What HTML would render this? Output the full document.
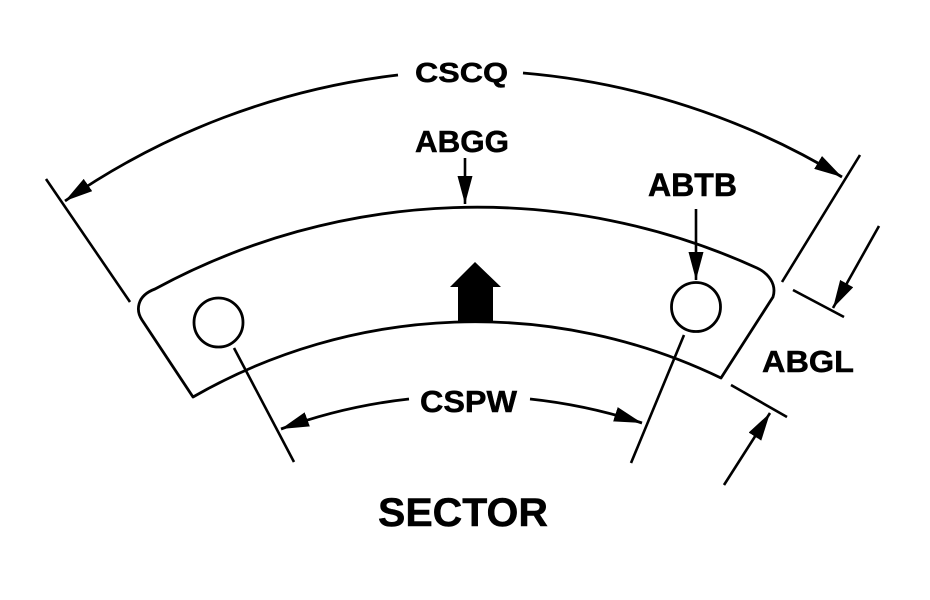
<!DOCTYPE html>
<html>
<head>
<meta charset="utf-8">
<style>
  html, body { margin: 0; padding: 0; background: #fff; }
  svg { display: block; }
  text { font-family: "Liberation Sans", Arial, sans-serif; font-weight: bold; fill: #000; stroke: #000; stroke-width: 0.5; }
</style>
</head>
<body>
<svg width="930" height="600" viewBox="0 0 930 600" xmlns="http://www.w3.org/2000/svg">
  <defs>
    <marker id="ah" markerUnits="userSpaceOnUse" markerWidth="28" markerHeight="15" refX="28" refY="7.5" orient="auto" viewBox="0 0 28 15">
      <path d="M0,0 L28,7.5 L0,15 Z" fill="#000"/>
    </marker>
  </defs>

  <g fill="none" stroke="#000" stroke-width="2.8" stroke-linecap="butt" stroke-linejoin="round">
    <!-- sector outline -->
    <path d="M155,289 A675,675 0 0 1 757,268 C768,273 777,284 773,297 L721,378 A566,566 0 0 0 193,397 L142,320 C136,311 136,296 155,289 Z"/>
    <!-- holes -->
    <circle cx="218.5" cy="322.5" r="24.5"/>
    <circle cx="696" cy="307" r="24.5"/>

    <!-- CSCQ extension lines -->
    <line x1="46" y1="179" x2="130" y2="302" stroke-width="2.6"/>
    <line x1="860" y1="155" x2="782" y2="282" stroke-width="2.6"/>
    <!-- CSCQ dimension arcs -->
    <path d="M398,75 A734,734 0 0 0 65,201" stroke-width="2.8" marker-end="url(#ah)"/>
    <path d="M523,73 A734,734 0 0 1 842,177" stroke-width="2.8" marker-end="url(#ah)"/>

    <!-- ABGG leader -->
    <line x1="465" y1="158" x2="465" y2="204" stroke-width="2.6" marker-end="url(#ah)"/>
    <!-- ABTB leader -->
    <line x1="696" y1="209" x2="696" y2="280" stroke-width="2.6" marker-end="url(#ah)"/>

    <!-- CSPW extension lines -->
    <line x1="234" y1="348" x2="294" y2="462" stroke-width="2.6"/>
    <line x1="684" y1="335" x2="631" y2="463" stroke-width="2.6"/>
    <!-- CSPW arcs -->
    <path d="M409,399 A543,543 0 0 0 281,429" stroke-width="2.8" marker-end="url(#ah)"/>
    <path d="M530,399 A543,543 0 0 1 642,423" stroke-width="2.8" marker-end="url(#ah)"/>

    <!-- ABGL extension lines -->
    <line x1="793" y1="290" x2="844" y2="317" stroke-width="2.6"/>
    <line x1="731" y1="385" x2="787" y2="417" stroke-width="2.6"/>
    <!-- ABGL arrows -->
    <line x1="879" y1="226" x2="833" y2="308" stroke-width="2.6" marker-end="url(#ah)"/>
    <line x1="724" y1="485" x2="770" y2="413" stroke-width="2.6" marker-end="url(#ah)"/>
  </g>

  <!-- filled direction arrow -->
  <polygon points="475,262 501,287 493,287 493,323 458,323 458,287 450,287" fill="#000"/>

  <!-- labels -->
  <text x="415" y="82" font-size="28" textLength="93" lengthAdjust="spacingAndGlyphs">CSCQ</text>
  <text x="415" y="152" font-size="31" textLength="94" lengthAdjust="spacingAndGlyphs">ABGG</text>
  <text x="648" y="196" font-size="32" textLength="89" lengthAdjust="spacingAndGlyphs">ABTB</text>
  <text x="762" y="372" font-size="31" textLength="92" lengthAdjust="spacingAndGlyphs">ABGL</text>
  <text x="420" y="412" font-size="31" textLength="97" lengthAdjust="spacingAndGlyphs">CSPW</text>
  <text x="378" y="526" font-size="40" textLength="170" lengthAdjust="spacingAndGlyphs">SECTOR</text>
</svg>
</body>
</html>
